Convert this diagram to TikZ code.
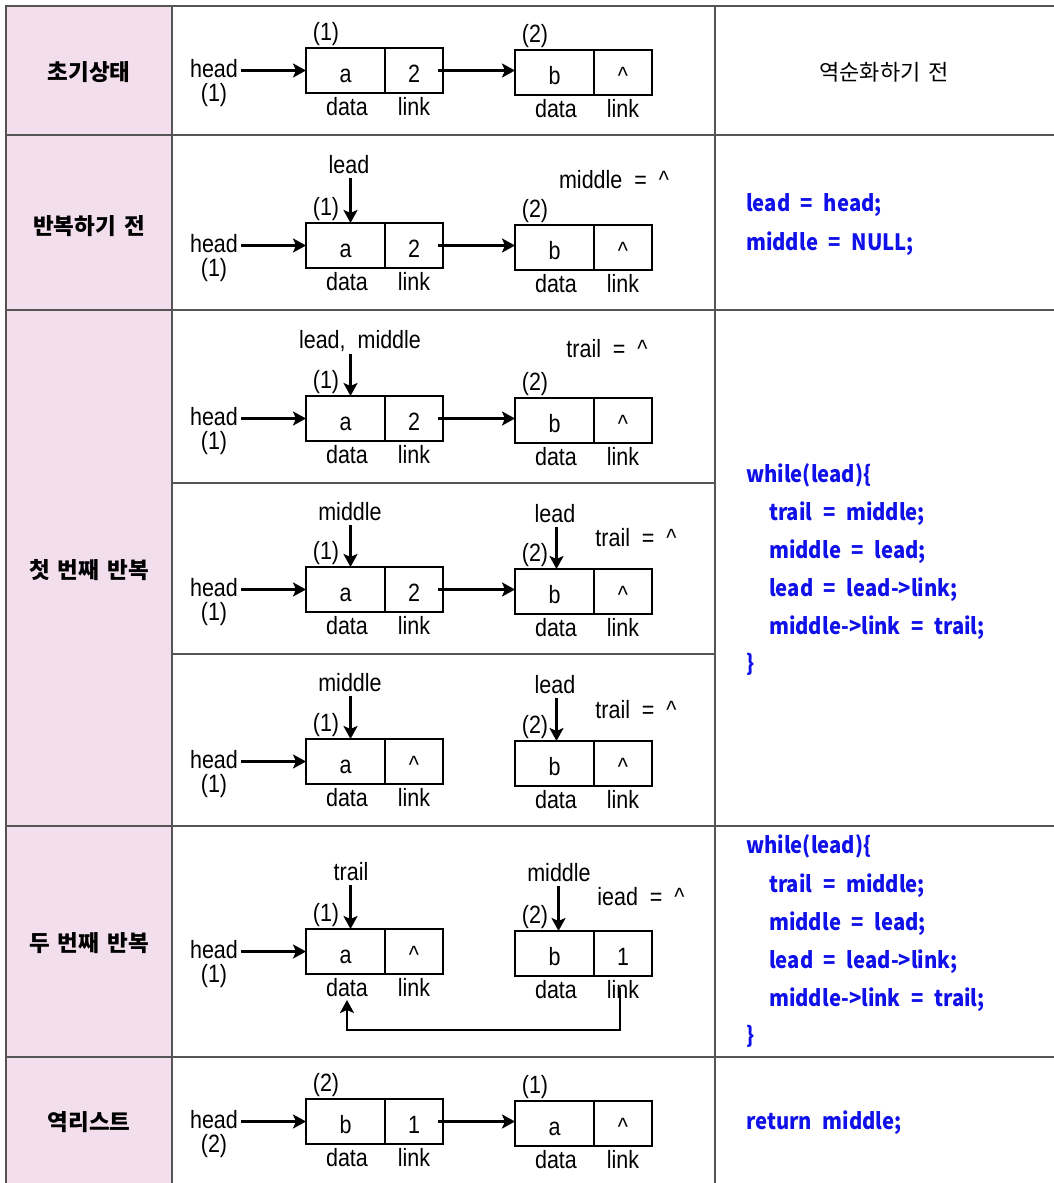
\documentclass[tikz,border=0pt]{standalone}
\usepackage{fontspec}
\setmainfont[FakeStretch=0.86]{Liberation Sans}
\newfontfamily\krfont{Noto Sans CJK KR}
\newfontfamily\krcode[FakeStretch=0.9,WordSpace=2.3]{Noto Sans CJK KR}
\usetikzlibrary{arrows.meta,calc}
\definecolor{pinkbg}{HTML}{F2DEEC}
\definecolor{gridc}{HTML}{555555}
\definecolor{codeblue}{HTML}{1010E8}
\tikzset{
  cellbox/.style={draw, line width=2.2pt, inner sep=0pt, outer sep=0pt, minimum height=45pt,
    text height=23pt, text depth=0pt, font=\fontsize{25}{28}\selectfont, anchor=north west},
  datacell/.style={cellbox, minimum width=79pt},
  linkcell/.style={cellbox, minimum width=58pt},
  lbl/.style={font=\fontsize{25}{28}\selectfont, inner sep=0pt},
  ptr/.style={line width=2.6pt, -{Stealth[length=13pt,width=14pt,inset=3pt]}},
  klabel/.style={font=\krfont\bfseries\fontsize{22.5}{26}\selectfont, inner sep=0pt},
  khead/.style={font=\krfont\fontsize{22}{26}\selectfont, inner sep=0pt},
  code/.style={font=\krcode\bfseries\fontsize{22.5}{26}\selectfont, text=codeblue, anchor=base west, inner sep=0pt},
  grid/.style={draw=gridc, line width=1.3pt}
}
\newcommand\listpair[9]{%
  \node[datacell] (#1ad) at (306,#2) {#3};
  \node[linkcell] (#1al) at (#1ad.north east) {#4};
  \node[datacell] (#1bd) at (515,{#2+2}) {#5};
  \node[linkcell] (#1bl) at (#1bd.north east) {#6};
  \node[lbl,anchor=base] (#1adl) at ($(#1ad.south)+(1.5,22)$) {data};
  \node[lbl,anchor=base] (#1all) at ($(#1al.south)+(0,22)$) {link};
  \node[lbl,anchor=base] (#1bdl) at ($(#1bd.south)+(1.5,22)$) {data};
  \node[lbl,anchor=base] (#1bll) at ($(#1bl.south)+(0,22)$) {link};
  \node[lbl,anchor=base] (#1an) at ($(#1ad.north west)+(20,-8)$) {(#7)};
  \node[lbl,anchor=base] (#1bn) at ($(#1bd.north west)+(20,-8)$) {(#8)};
  \node[lbl,anchor=base] (#1h) at ($(#1ad.north west)+(-92,29)$) {head};
  \node[lbl,anchor=base] (#1hn) at ($(#1ad.north west)+(-92,53)$) {(#9)};
  \draw[ptr] ($(#1h.east |- #1ad.west)+(3,0)$) -- (#1ad.west);
}
\begin{document}
\begin{tikzpicture}[x=1pt,y=-1pt]
\useasboundingbox (0,0) rectangle (1054,1183);
% table
\fill[pinkbg] (6,6) rectangle (172,1183);
\draw[grid] (6,1183) -- (6,6) -- (1054,6);
\draw[grid] (172,6) -- (172,1183);
\draw[grid] (715,6) -- (715,1183);
\draw[grid] (6,135) -- (1054,135);
\draw[grid] (6,310) -- (1054,310);
\draw[grid] (172,483) -- (715,483);
\draw[grid] (172,654) -- (715,654);
\draw[grid] (6,826) -- (1054,826);
\draw[grid] (6,1057) -- (1054,1057);
% left labels
\node[klabel] (k1) at (89,72) {초기상태};
\node[klabel] (k2) at (89,226) {반복하기\hspace{8pt}전};
\node[klabel] (k3) at (89,570) {첫\hspace{8pt}번째\hspace{8pt}반복};
\node[klabel] (k4) at (89,943) {두\hspace{8pt}번째\hspace{8pt}반복};
\node[klabel] (k5) at (89,1122) {역리스트};
\node[khead] (hdr) at (884,72) {역순화하기\hspace{8pt}전};
% row 1
\listpair{r1}{48}{a}{2}{b}{\textasciicircum}{1}{2}{1}
\draw[ptr] ([xshift=-5pt]r1al.east) -- (r1al.east -| r1bd.west);
% row 2
\listpair{r2}{223}{a}{2}{b}{\textasciicircum}{1}{2}{1}
\draw[ptr] ([xshift=-5pt]r2al.east) -- (r2al.east -| r2bd.west);
\node[lbl] (r2lead) at (349,164.5) {lead};
\coordinate (r2p) at ($(r2ad.north)+(5,0)$);
\draw[ptr] ($(r2lead.south -| r2p)+(0,4)$) -- (r2p);
\node[lbl] (r2mid) at (614,180) {middle\ \ =\ \ \textasciicircum};
% row 3a
\listpair{r3}{396}{a}{2}{b}{\textasciicircum}{1}{2}{1}
\draw[ptr] ([xshift=-5pt]r3al.east) -- (r3al.east -| r3bd.west);
\node[lbl] (r3lm) at (360,341) {lead,\ \ middle};
\coordinate (r3p) at ($(r3ad.north)+(5,0)$);
\draw[ptr] ($(r3lm.south -| r3p)+(0,2)$) -- (r3p);
\node[lbl] (r3tr) at (607,349) {trail\ \ =\ \ \textasciicircum};
% row 3b
\listpair{s3}{567}{a}{2}{b}{\textasciicircum}{1}{2}{1}
\draw[ptr] ([xshift=-5pt]s3al.east) -- (s3al.east -| s3bd.west);
\node[lbl] (s3mid) at (350,512) {middle};
\coordinate (s3p) at ($(s3ad.north)+(5,0)$);
\draw[ptr] ($(s3mid.south -| s3p)+(0,4)$) -- (s3p);
\node[lbl] (s3lead) at (555,514) {lead};
\coordinate (s3q) at ($(s3bd.north)+(2,0)$);
\draw[ptr] ($(s3lead.south -| s3q)+(0,4)$) -- (s3q);
\node[lbl] (s3tr) at (636,538) {trail\ \ =\ \ \textasciicircum};
% row 3c
\listpair{t3}{739}{a}{\textasciicircum}{b}{\textasciicircum}{1}{2}{1}
\node[lbl] (t3mid) at (350,683) {middle};
\coordinate (t3p) at ($(t3ad.north)+(5,0)$);
\draw[ptr] ($(t3mid.south -| t3p)+(0,4)$) -- (t3p);
\node[lbl] (t3lead) at (555,685) {lead};
\coordinate (t3q) at ($(t3bd.north)+(2,0)$);
\draw[ptr] ($(t3lead.south -| t3q)+(0,4)$) -- (t3q);
\node[lbl] (t3tr) at (636,710) {trail\ \ =\ \ \textasciicircum};
% row 4
\listpair{r4}{929}{a}{\textasciicircum}{b}{1}{1}{2}{1}
\node[lbl] (r4tr) at (351,872) {trail};
\coordinate (r4p) at ($(r4ad.north)+(5,0)$);
\draw[ptr] ($(r4tr.south -| r4p)+(0,4)$) -- (r4p);
\node[lbl] (r4mid) at (559,873) {middle};
\coordinate (r4q) at ($(r4bd.north)+(4,0)$);
\draw[ptr] ($(r4mid.south -| r4q)+(0,4)$) -- (r4q);
\node[lbl] (r4ld) at (641,897) {iead\ \ =\ \ \textasciicircum};
\coordinate (r4s) at ($(r4bl.south)+(-3,12)$);
\coordinate (r4e) at ($(r4ad.south)+(1.5,26)$);
\draw[ptr] (r4s) -- ($(r4s)+(0,42)$) -| (r4e);
% row 5
\listpair{r5}{1099}{b}{1}{a}{\textasciicircum}{2}{1}{2}
\draw[ptr] ([xshift=-5pt]r5al.east) -- (r5al.east -| r5bd.west);
% code
\node[code] (c2a) at (746,211) {lead = head;};
\node[code] (c2b) at (746,250) {middle = NULL;};
\node[code] (c3a) at (746,482) {while(lead)\{};
\node[code] (c3b) at (769,520) {trail = middle;};
\node[code] (c3c) at (769,558) {middle = lead;};
\node[code] (c3d) at (769,596) {lead = lead->link;};
\node[code] (c3e) at (769,634) {middle->link = trail;};
\node[code] (c3f) at (746,671) {\}};
\node[code] (c4a) at (746,853) {while(lead)\{};
\node[code] (c4b) at (769,892) {trail = middle;};
\node[code] (c4c) at (769,930) {middle = lead;};
\node[code] (c4d) at (769,968) {lead = lead->link;};
\node[code] (c4e) at (769,1006) {middle->link = trail;};
\node[code] (c4f) at (746,1043) {\}};
\node[code] (c5a) at (746,1129) {return middle;};
\end{tikzpicture}
\end{document}
